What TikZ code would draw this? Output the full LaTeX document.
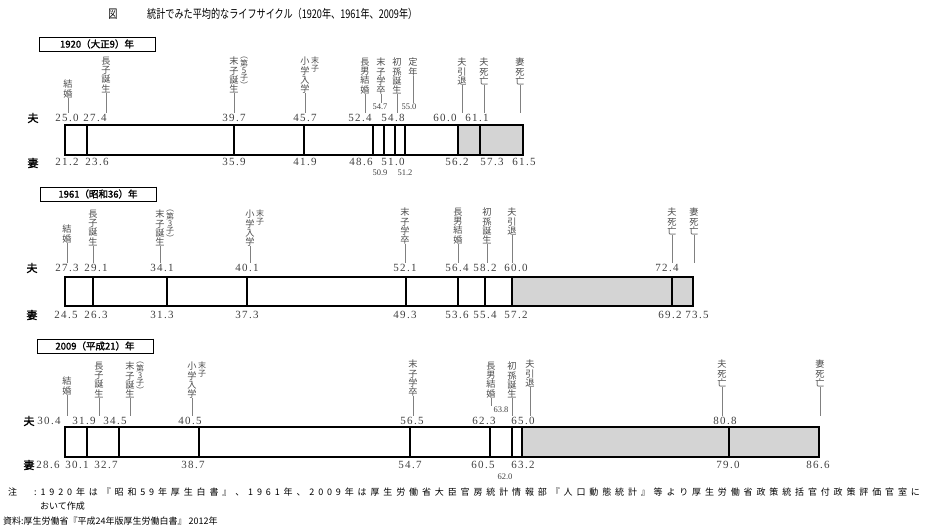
\documentclass[tikz,border=0pt]{standalone}
\usepackage{fontspec}
\setmainfont{Noto Sans CJK JP}
\newfontfamily\jpb[FakeBold=1.5]{Noto Sans CJK JP}
\newfontfamily\jpw[LetterSpace=43]{Noto Sans CJK JP}
\newfontfamily\jpt[FakeStretch=0.76]{Noto Sans CJK JP}
\newfontfamily\numf[LetterSpace=12]{Liberation Serif}
\newfontfamily\numsm{Liberation Serif}
\usetikzlibrary{positioning}

\begin{document}
\begin{tikzpicture}[x=1pt, y=-1pt,
    lbl/.style={font=\fontsize{9.2}{9.2}\selectfont, text=black!70, align=center, anchor=north, inner sep=0pt},
    side/.style={lbl, font=\fontsize{8}{7.4}\selectfont, right=1pt of #1.north east, anchor=north west},
    num/.style={font=\numf\fontsize{11}{11}\selectfont, text=black!75, inner sep=0pt},
    snum/.style={font=\numsm\fontsize{8.5}{8.5}\selectfont, text=black!75, inner sep=0pt},
    who/.style={font=\jpb\fontsize{11}{11}\selectfont, inner sep=0pt},
    yr/.style={draw, line width=0.6pt, font=\jpb\fontsize{9.5}{9.5}\selectfont, minimum width=116pt, minimum height=14pt, inner sep=0pt},
    tick/.style={draw=black!50, line width=0.4pt, shorten >=1pt},
    div/.style={line width=1.6pt},
    note/.style={font=\fontsize{9}{9}\selectfont, anchor=west, inner sep=0pt}
  ]
  \useasboundingbox (0,0) rectangle (937,528);

  \node (fig) at (113,14) {\jpt\fontsize{12}{12}\selectfont 図};
  \node[anchor=west, inner sep=0pt] (title) at (147,14) {\jpt\fontsize{12}{12}\selectfont 統計でみた平均的なライフサイクル（1920年、1961年、2009年）};

  % ---- 1920
  \node[yr] (y20) at (97,44) {1920（大正9）年};
  \draw[line width=1.5pt] (y20.north east) -- (y20.south east);
  \node[who] (m20) at (33,118) {夫};
  \node[who] (f20) at (33,163) {妻};

  \node[lbl] (c20a) at (68,80) {結\\婚};
  \node[lbl] (c20b) at (106,57) {長\\子\\誕\\生};
  \node[lbl] (c20c) at (234,57) {末\\子\\誕\\生};
  \node[side=c20c] (d20c) {︵\\第\\5\\子\\︶};
  \node[lbl] (c20d) at (305,57) {小\\学\\入\\学};
  \node[side=c20d] (d20d) {末\\子};
  \node[lbl] (c20e) at (365,58) {長\\男\\結\\婚};
  \node[lbl] (c20f) at (381,58) {末\\子\\学\\卒};
  \node[lbl] (c20g) at (397,58) {初\\孫\\誕\\生};
  \node[lbl] (c20h) at (413,58) {定\\年};
  \node[lbl] (c20i) at (462,58) {夫\\引\\退};
  \node[lbl] (c20j) at (484,58) {夫\\死\\亡};
  \node[lbl] (c20k) at (520,58) {妻\\死\\亡};

  \foreach \x/\v [count=\i] in {67/25.0, 95/27.4, 234/39.7, 305/45.7, 360/52.4, 393/54.8, 445/60.0, 477/61.1}
    \node[num] (h20-\i) at (\x,118) {\v};
  \node[snum] (s20-1) at (380,107) {54.7};
  \node[snum] (s20-2) at (409,107) {55.0};
  \foreach \x/\v [count=\i] in {67/21.2, 97/23.6, 234/35.9, 305/41.9, 361/48.6, 393/51.0, 457/56.2, 492/57.3, 524/61.5}
    \node[num] (w20-\i) at (\x,162) {\v};
  \node[snum] (t20-1) at (380,173) {50.9};
  \node[snum] (t20-2) at (405,173) {51.2};

  \draw[tick] (c20a) -- (c20a |- h20-1.north);
  \draw[tick] (c20b) -- (c20b |- h20-2.north);
  \draw[tick] (c20c) -- (c20c |- h20-3.north);
  \draw[tick] (c20d) -- (c20d |- h20-4.north);
  \draw[tick] (c20e) -- (c20e |- h20-5.north);
  \draw[tick] (c20f) -- (c20f |- s20-1.north);
  \draw[tick] (c20g) -- (c20g |- h20-6.north);
  \draw[tick] (c20h) -- (c20h |- s20-2.north);
  \draw[tick] (c20i) -- (c20i |- h20-7.north);
  \draw[tick] (c20j) -- (c20j |- h20-8.north);
  \draw[tick] (c20k) -- (c20k |- h20-8.north);

  \fill[black!17] (458,125) rectangle (523,155);
  \draw[line width=1.1pt] (65,125) rectangle (523,155);
  \foreach \x in {87,234,304,373,384,395,405,458,480}
    \draw[div] (\x,125) -- (\x,155);

  % ---- 1961
  \node[yr] (y61) at (98,194) {1961（昭和36）年};
  \draw[line width=1.5pt] (y61.north east) -- (y61.south east);
  \node[who] (m61) at (32,268) {夫};
  \node[who] (f61) at (32,315) {妻};

  \node[lbl] (c61a) at (67,225) {結\\婚};
  \node[lbl] (c61b) at (93,210) {長\\子\\誕\\生};
  \node[lbl] (c61c) at (160,210) {末\\子\\誕\\生};
  \node[side=c61c] (d61c) {︵\\第\\3\\子\\︶};
  \node[lbl] (c61d) at (250,210) {小\\学\\入\\学};
  \node[side=c61d] (d61d) {末\\子};
  \node[lbl] (c61e) at (405,208) {末\\子\\学\\卒};
  \node[lbl] (c61f) at (458,208) {長\\男\\結\\婚};
  \node[lbl] (c61g) at (487,208) {初\\孫\\誕\\生};
  \node[lbl] (c61h) at (512,208) {夫\\引\\退};
  \node[lbl] (c61i) at (672,208) {夫\\死\\亡};
  \node[lbl] (c61j) at (694,208) {妻\\死\\亡};

  \foreach \x/\v [count=\i] in {67/27.3, 96/29.1, 162/34.1, 247/40.1, 405/52.1, 457/56.4, 485/58.2, 516/60.0, 667/72.4}
    \node[num] (h61-\i) at (\x,268) {\v};
  \foreach \x/\v [count=\i] in {66/24.5, 96/26.3, 162/31.3, 247/37.3, 405/49.3, 457/53.6, 485/55.4, 516/57.2, 670/69.2, 697/73.5}
    \node[num] (w61-\i) at (\x,315) {\v};

  \draw[tick] (c61a) -- (c61a |- h61-1.north);
  \draw[tick] (c61b) -- (c61b |- h61-2.north);
  \draw[tick] (c61c) -- (c61c |- h61-3.north);
  \draw[tick] (c61d) -- (c61d |- h61-4.north);
  \draw[tick] (c61e) -- (c61e |- h61-5.north);
  \draw[tick] (c61f) -- (c61f |- h61-6.north);
  \draw[tick] (c61g) -- (c61g |- h61-7.north);
  \draw[tick] (c61h) -- (c61h |- h61-8.north);
  \draw[tick] (c61i) -- (c61i |- h61-9.north);
  \draw[tick] (c61j) -- (c61j |- h61-9.north);

  \fill[black!17] (512,277) rectangle (693,306);
  \draw[line width=1.1pt] (65,277) rectangle (693,306);
  \foreach \x in {93,167,247,406,458,485,512,672}
    \draw[div] (\x,277) -- (\x,306);

  % ---- 2009
  \node[yr] (y09) at (95,346) {2009（平成21）年};
  \draw[line width=1.5pt] (y09.north east) -- (y09.south east);
  \node[who] (m09) at (29,421) {夫};
  \node[who] (f09) at (29,465) {妻};

  \node[lbl] (c09a) at (67,377) {結\\婚};
  \node[lbl] (c09b) at (99,362) {長\\子\\誕\\生};
  \node[lbl] (c09c) at (130,362) {末\\子\\誕\\生};
  \node[side=c09c] (d09c) {︵\\第\\3\\子\\︶};
  \node[lbl] (c09d) at (192,362) {小\\学\\入\\学};
  \node[side=c09d] (d09d) {末\\子};
  \node[lbl] (c09e) at (413,360) {末\\子\\学\\卒};
  \node[lbl] (c09f) at (491,362) {長\\男\\結\\婚};
  \node[lbl] (c09g) at (512,362) {初\\孫\\誕\\生};
  \node[lbl] (c09h) at (530,360) {夫\\引\\退};
  \node[lbl] (c09i) at (722,360) {夫\\死\\亡};
  \node[lbl] (c09j) at (820,360) {妻\\死\\亡};

  \foreach \x/\v [count=\i] in {49/30.4, 84/31.9, 115/34.5, 190/40.5, 412/56.5, 484/62.3, 523/65.0, 725/80.8}
    \node[num] (h09-\i) at (\x,421) {\v};
  \node[snum] (s09-1) at (501,410) {63.8};
  \foreach \x/\v [count=\i] in {48/28.6, 77/30.1, 106/32.7, 193/38.7, 410/54.7, 483/60.5, 523/63.2, 728/79.0, 818/86.6}
    \node[num] (w09-\i) at (\x,465) {\v};
  \node[snum] (t09-1) at (505,477) {62.0};

  \draw[tick] (c09a) -- (c09a |- h09-1.north);
  \draw[tick] (c09b) -- (c09b |- h09-2.north);
  \draw[tick] (c09c) -- (c09c |- h09-3.north);
  \draw[tick] (c09d) -- (c09d |- h09-4.north);
  \draw[tick] (c09e) -- (c09e |- h09-5.north);
  \draw[tick] (c09f) -- (c09f |- s09-1.north);
  \draw[tick] (c09g) -- (c09g |- h09-6.north);
  \draw[tick] (c09h) -- (c09h |- h09-7.north);
  \draw[tick] (c09i) -- (c09i |- h09-8.north);
  \draw[tick] (c09j) -- (c09j |- h09-8.north);

  \fill[black!17] (522,427) rectangle (819,457);
  \draw[line width=1.1pt] (65,427) rectangle (819,457);
  \foreach \x in {87,119,199,410,490,512,522,729}
    \draw[div] (\x,427) -- (\x,457);

  % ---- notes
  \node[note] (n0) at (8,492) {注};
  \node[note, font=\jpw\fontsize{9}{9}\selectfont] (n1) at (34,492) {:1920年は『昭和59年厚生白書』、1961年、2009年は厚生労働省大臣官房統計情報部『人口動態統計』等より厚生労働省政策統括官付政策評価官室に};
  \node[note] (n2) at (40,506) {おいて作成};
  \node[note] (n3) at (3,521) {資料:厚生労働省『平成24年版厚生労働白書』 2012年};
\end{tikzpicture}
\end{document}
